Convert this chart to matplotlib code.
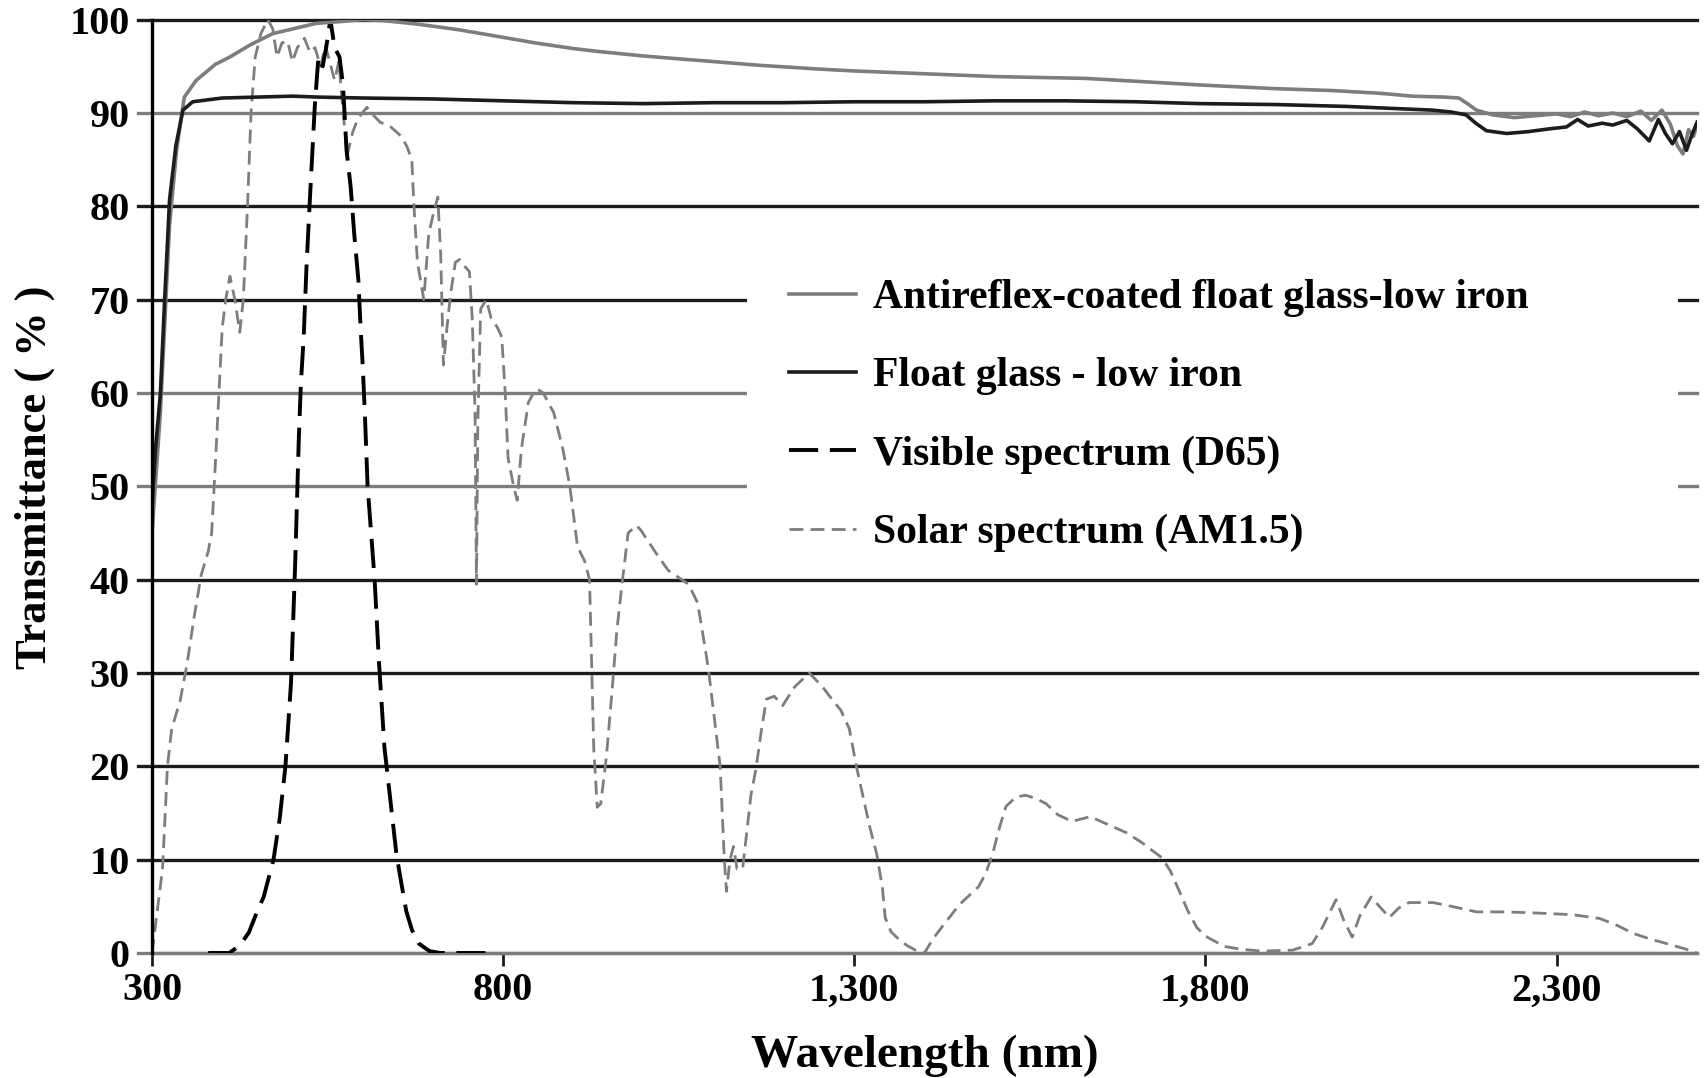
import matplotlib
matplotlib.use("Agg")
import matplotlib.pyplot as plt
from matplotlib.patches import Rectangle
from matplotlib.ticker import FuncFormatter

# antireflex-coated float glass, low iron
ar_nm = [300, 312, 325, 335, 346, 363, 390, 411, 440, 472, 500, 534, 570, 600, 629, 680,
         738, 800, 846, 900, 934, 1000, 1100, 1166, 1250, 1300, 1400, 1500, 1630, 1700,
         1792, 1900, 1981, 2050, 2094, 2140, 2161, 2175, 2186, 2209, 2240, 2270, 2300,
         2320, 2340, 2360, 2380, 2400, 2420, 2435, 2450, 2462, 2472, 2480, 2488, 2495, 2500]
ar_t = [45, 58, 78, 86, 91.7, 93.5, 95.2, 96, 97.3, 98.5, 99.0, 99.6, 99.8, 100, 99.9, 99.5,
        98.9, 98.1, 97.5, 96.9, 96.6, 96.1, 95.5, 95.1, 94.7, 94.5, 94.2, 93.9, 93.7, 93.4,
        93.0, 92.6, 92.4, 92.1, 91.8, 91.7, 91.6, 90.9, 90.3, 89.8, 89.5, 89.7, 89.9,
        89.6, 90.1, 89.7, 90.0, 89.6, 90.2, 89.2, 90.3, 88.8, 86.5, 85.6, 88.2, 87.5, 88.7]

# float glass, low iron
fg_nm = [300, 305, 312, 318, 325, 334, 344, 358, 400, 450, 500, 537, 600, 700, 800, 900,
         1000, 1100, 1200, 1300, 1400, 1500, 1600, 1700, 1792, 1900, 2000, 2124, 2150,
         2171, 2185, 2200, 2229, 2260, 2290, 2314, 2330, 2345, 2365, 2380, 2400, 2415,
         2432, 2445, 2455, 2465, 2475, 2485, 2492, 2500]
fg_t = [48, 54, 60, 70, 80.7, 86.5, 90.3, 91.2, 91.6, 91.7, 91.8, 91.7, 91.6, 91.5, 91.3, 91.1,
        91.0, 91.1, 91.1, 91.2, 91.2, 91.3, 91.3, 91.2, 91.0, 90.9, 90.7, 90.3, 90.1,
        89.8, 88.9, 88.1, 87.8, 88.0, 88.3, 88.5, 89.3, 88.6, 88.9, 88.7, 89.2, 88.3,
        87.0, 89.3, 87.8, 86.7, 88.0, 86.0, 87.5, 89.0]

# visible spectrum D65
vis_nm = [380, 410, 425, 438, 450, 459, 466, 473, 482, 490, 498, 504, 509, 512, 516, 520,
          525, 532, 537, 543, 548, 554, 560, 567, 572, 577, 583, 588, 594, 597, 600, 603,
          607, 612, 617, 623, 631, 640, 648, 655, 662, 670, 680, 695, 710, 780]
vis_t = [0, 0, 0.8, 2.2, 4.5, 6, 8, 10, 14.5, 20, 29, 42, 55, 61, 66, 73.5,
         81, 91, 96, 95, 97, 100, 97, 96, 93, 86, 82, 77, 72, 67, 63, 58,
         50, 45, 40, 31.4, 22, 16, 10.6, 7.5, 4.5, 2.5, 1, 0.2, 0, 0]

# solar spectrum AM1.5
sol_nm = [300, 315, 322, 328, 340, 350, 360, 370, 380, 385, 392, 400, 405, 411, 418, 425,
          430, 436, 441, 447, 455, 465, 472, 478, 485, 493, 500, 507, 517, 525, 532, 540,
          547, 553, 560, 566, 571, 578, 586, 594, 606, 612, 625, 640, 655, 663, 670, 673,
          678, 687, 694, 700, 707, 711, 715, 720, 725, 732, 738, 746, 752, 756, 760, 762,
          764, 768, 776, 783, 792, 798, 803, 807, 815, 820, 826, 836, 847, 857, 872, 885,
          895, 906, 916, 923, 929, 934, 939, 947, 955, 962, 970, 978, 990, 996, 1019, 1035,
          1064, 1077, 1088, 1093, 1101, 1109, 1115, 1118, 1123, 1128, 1133, 1141, 1147,
          1153, 1160, 1168, 1175, 1186, 1198, 1215, 1236, 1255, 1270, 1281, 1293, 1303,
          1312, 1322, 1332, 1340, 1344, 1352, 1360, 1375, 1392, 1400, 1412, 1427, 1450,
          1477, 1487, 1497, 1507, 1516, 1530, 1544, 1560, 1573, 1590, 1610, 1636, 1660,
          1687, 1710, 1738, 1750, 1763, 1775, 1788, 1800, 1827, 1850, 1880, 1924, 1952,
          1967, 1978, 1986, 1997, 2009, 2020, 2036, 2050, 2062, 2075, 2090, 2124, 2150,
          2186, 2226, 2266, 2323, 2361, 2385, 2409, 2433, 2457, 2475, 2489, 2500]
sol_t = [0, 9, 20, 24, 27, 31, 36, 40.5, 43, 45, 55, 67, 70, 72.5, 70, 66.5,
         70, 80, 90, 96, 98.5, 100, 99, 96, 97.5, 97.7, 95.5, 97, 98, 96.5, 97, 95,
         97.2, 95.5, 93.5, 95.5, 91, 85.5, 88, 89.5, 90.6, 90, 89, 88.5, 87.5, 86.4, 85, 80,
         74, 70, 77, 79, 81, 75, 63, 67, 70.5, 74, 74.3, 73.5, 73, 68, 58, 39.5,
         57, 69, 70, 68, 67, 66, 60, 53, 50, 48.5, 54, 59, 60.5, 60, 57.9, 54,
         50, 43.5, 42, 40, 22, 15.6, 16, 21, 28, 34.6, 40, 45, 45.8, 45.3, 42.7, 41,
         39.5, 37.5, 32.5, 30, 25, 20, 10, 6.6, 10, 11.4, 9, 9, 13,
         17, 19.7, 24, 27.2, 27.5, 26.5, 28.5, 30, 28.5, 27, 26, 24, 20,
         16.9, 13.5, 10.6, 7, 3.8, 2.3, 1.7, 0.8, 0.1, 0, 1.5, 3, 5.2,
         7.1, 8.5, 10.6, 13.5, 15.7, 16.7, 16.9, 16.5, 16, 14.8, 14.1, 14.6, 13.8,
         12.9, 11.8, 10.2, 8.8, 6.6, 4.5, 2.7, 1.8, 0.7, 0.4, 0.2, 0.3, 1,
         2.8, 4.5, 5.7, 3.5, 1.7, 4, 6, 4.8, 3.8, 4.8, 5.4, 5.4, 5,
         4.4, 4.4, 4.3, 4.1, 3.7, 3, 2.1, 1.5, 1, 0.6, 0.3, 0]

labels = ["Antireflex-coated float glass-low iron", "Float glass - low iron",
          "Visible spectrum (D65)", "Solar spectrum (AM1.5)"]
x_ticks = [300, 800, 1300, 1800, 2300]
y_ticks = [0, 10, 20, 30, 40, 50, 60, 70, 80, 90, 100]

GRAY = "#7d7d7d"
DARK = "#1c1c1c"
# gridline shades as they appear in the figure
grid_shade = {0: GRAY, 50: GRAY, 60: GRAY, 90: GRAY}

plt.rcParams["font.family"] = ["Liberation Serif", "DejaVu Serif"]
plt.rcParams["font.weight"] = "bold"

fig = plt.figure(figsize=(17.04, 10.78), dpi=100)
ax = fig.add_axes([0.0892, 0.116, 0.9067, 0.8658])

for y in y_ticks:
    ax.axhline(y, xmin=-0.009, xmax=1, color=grid_shade.get(y, DARK), lw=2.4,
               clip_on=False, zorder=1)

# white box behind the legend hides the gridlines there
ax.add_patch(Rectangle((0.385, 0.44), 0.603, 0.305, transform=ax.transAxes,
                       facecolor="white", edgecolor="none", zorder=2))

ax.plot(sol_nm, sol_t, color=GRAY, lw=2.0, linestyle=(0, (5, 2.6)), label=labels[3], zorder=3)
ax.plot(vis_nm, vis_t, color="black", lw=2.8, linestyle=(0, (7.5, 3)), label=labels[2], zorder=4)
ax.plot(ar_nm, ar_t, color=GRAY, lw=2.6, label=labels[0], zorder=5)
ax.plot(fg_nm, fg_t, color=DARK, lw=2.6, label=labels[1], zorder=6)

ax.set_xlim(300, 2500)
ax.set_ylim(0, 100)
ax.set_xticks(x_ticks)
ax.set_yticks(y_ticks)
ax.xaxis.set_major_formatter(FuncFormatter(lambda v, p: f"{int(v):,}"))

for s in ["top", "right"]:
    ax.spines[s].set_visible(False)
ax.spines["left"].set_color("black")
ax.spines["left"].set_linewidth(2.4)
ax.spines["left"].set_zorder(7)
ax.spines["bottom"].set_color(GRAY)
ax.spines["bottom"].set_linewidth(2.4)

ax.tick_params(axis="x", direction="out", length=9, width=2, color=DARK,
               labelsize=29, pad=5)
ax.tick_params(axis="y", length=0, labelsize=29, pad=16)
for t in ax.get_xticklabels() + ax.get_yticklabels():
    t.set_fontweight("bold")

ax.set_xlabel("Wavelength (nm)", fontsize=34, fontweight="bold")
ax.xaxis.set_label_coords(0.5, -0.088)
ax.set_ylabel("Transmittance ( % )", fontsize=32, fontweight="bold", va="center")
ax.yaxis.set_label_coords(-0.076, 0.51)

handles, labs = ax.get_legend_handles_labels()
order = [2, 3, 1, 0]
leg = ax.legend([handles[i] for i in order], [labs[i] for i in order],
                loc="upper left", bbox_to_anchor=(0.4125, 0.722), frameon=False,
                fontsize=30, handlelength=1.6, handletextpad=0.4, labelspacing=0.96,
                borderpad=0, borderaxespad=0)
for t in leg.get_texts():
    t.set_fontweight("bold")
leg.set_zorder(8)

fig.savefig("out.png", dpi=100)
